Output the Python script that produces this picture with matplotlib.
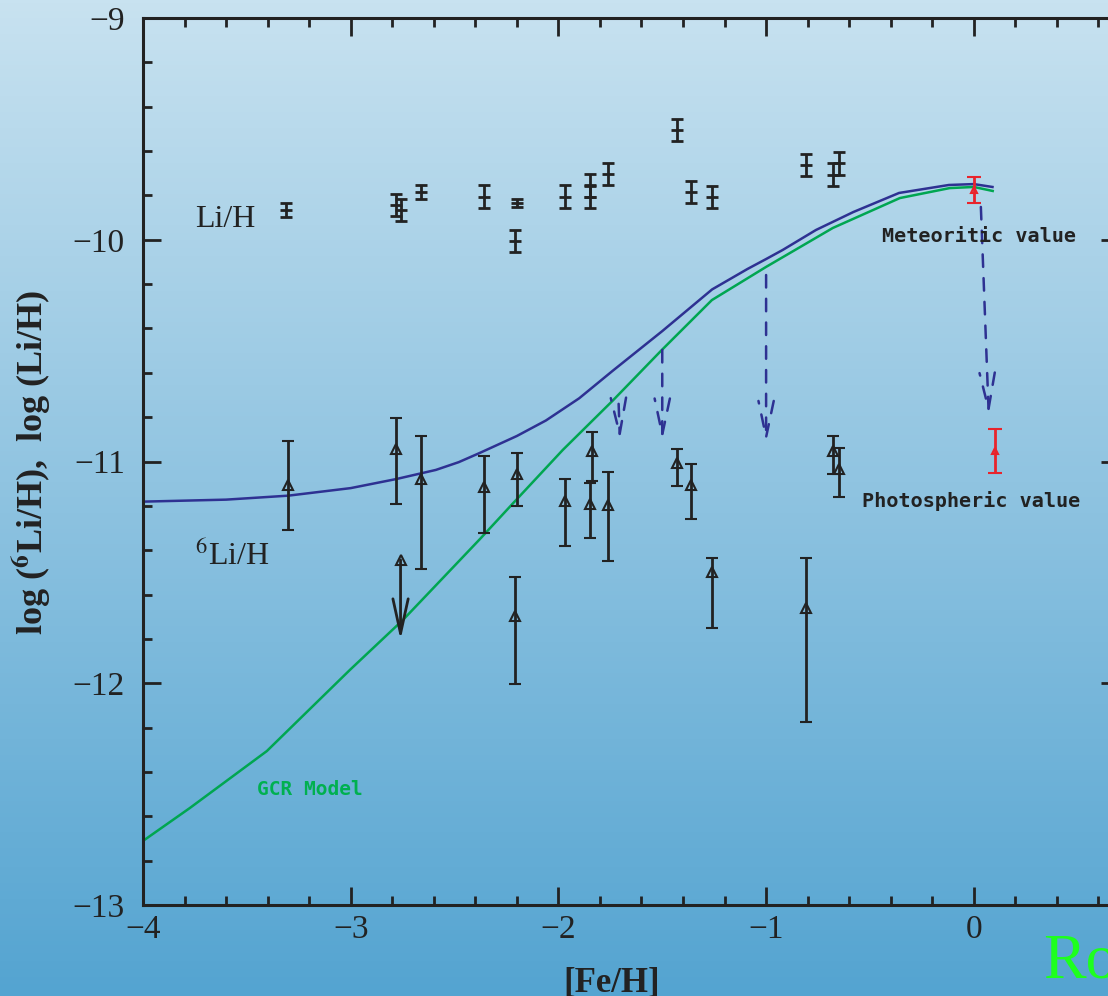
import numpy as np
import matplotlib
matplotlib.use("Agg")
import matplotlib.pyplot as plt
from matplotlib.ticker import MultipleLocator

plt.rcParams['font.family'] = ['Liberation Serif', 'DejaVu Serif']
plt.rcParams['mathtext.fontset'] = 'stix'

# model curves
blue_feh = [-4.0, -3.6, -3.3, -3.0, -2.78, -2.59, -2.48, -2.38, -2.20, -2.06, -1.90, -1.74,
            -1.50, -1.26, -1.09, -1.00, -0.92, -0.76, -0.58, -0.36, -0.12, 0.0, 0.09]
blue_li = [-11.181, -11.172, -11.154, -11.12, -11.079, -11.038, -11.003, -10.962, -10.885, -10.815,
           -10.715, -10.592, -10.412, -10.224, -10.132, -10.087, -10.046, -9.956, -9.875, -9.789,
           -9.753, -9.749, -9.762]
green_feh = [-4.0, -3.775, -3.404, -3.004, -2.749, -2.571, -2.378, -2.220, -1.979, -1.738,
             -1.502, -1.261, -1.001, -0.679, -0.356, -0.116, 0.0, 0.091]
green_li = [-12.711, -12.563, -12.306, -11.940, -11.715, -11.540, -11.350, -11.190, -10.948, -10.725,
            -10.497, -10.272, -10.123, -9.947, -9.812, -9.767, -9.762, -9.780]

# Li/H measurements
li_feh = [-3.31, -2.78, -2.76, -2.66, -2.36, -2.20, -2.21, -1.97, -1.85, -1.85, -1.76,
          -1.43, -1.36, -1.26, -0.81, -0.68, -0.65]
li_h = [-9.866, -9.843, -9.866, -9.785, -9.806, -9.834, -10.006, -9.806, -9.755, -9.806, -9.705,
        -9.505, -9.785, -9.806, -9.664, -9.706, -9.656]
li_err = [0.03, 0.05, 0.05, 0.03, 0.052, 0.02, 0.05, 0.052, 0.05, 0.05, 0.05,
          0.05, 0.05, 0.05, 0.05, 0.05, 0.05]

# 6Li/H measurements (value, top of bar, bottom of bar)
li6_feh = [-3.30, -2.78, -2.66, -2.36, -2.20, -2.21, -1.97, -1.84, -1.85, -1.76,
           -1.43, -1.36, -1.26, -0.81, -0.68, -0.65]
li6_h = [-11.106, -10.944, -11.080, -11.116, -11.058, -11.697, -11.177, -10.953, -11.193, -11.195,
         -11.008, -11.107, -11.498, -11.659, -10.953, -11.035]
li6_top = [-10.908, -10.802, -10.884, -10.975, -10.960, -11.522, -11.080, -10.868, -11.098, -11.049,
           -10.944, -11.013, -11.434, -11.434, -10.885, -10.940]
li6_bot = [-11.309, -11.192, -11.485, -11.324, -11.201, -12.003, -11.380, -11.088, -11.346, -11.449,
           -11.112, -11.261, -11.752, -12.175, -11.056, -11.161]

# 6Li/H upper limit
lim_feh = -2.76
lim_h = -11.444
lim_to = -11.805

# meteoritic and photospheric values
met_feh, met_h, met_err = 0.0, -9.776, 0.06
pho_feh, pho_h, pho_err = 0.10, -10.953, 0.10

# depletion arrows (start -> end)
arr_x0 = [-1.71, -1.50, -1.00, 0.034]
arr_y0 = [-10.74, -10.497, -10.159, -9.852]
arr_x1 = [-1.704, -1.50, -1.00, 0.072]
arr_y1 = [-10.903, -10.906, -10.917, -10.790]

ink = '#222222'
navy = '#2e3192'
green = '#00a651'
red = '#e8242c'

fig = plt.figure(figsize=(11.08, 9.96), dpi=100)

# gradient background
bg = fig.add_axes([0, 0, 1, 1], zorder=-5)
top_c = np.array([200, 226, 240]) / 255
bot_c = np.array([84, 164, 209]) / 255
t = np.linspace(0, 1, 256)[:, None]
grad = top_c[None, :] * (1 - t) + bot_c[None, :] * t
bg.imshow(grad[:, None, :], aspect='auto', extent=[0, 1, 0, 1])
bg.axis('off')

ax = fig.add_axes([143 / 1108, 1 - 905 / 996, 4.7 * 207.7 / 1108, (905 - 18) / 996])
ax.set_facecolor('none')

ax.plot(blue_feh, blue_li, color=navy, lw=1.8)
ax.plot(green_feh, green_li, color=green, lw=1.8)

ax.errorbar(li_feh, li_h, yerr=li_err, fmt='_', color=ink, ms=8, mew=2,
            elinewidth=2, capsize=4, capthick=2)

li6_y = np.array(li6_h)
yerr = [li6_y - np.array(li6_bot), np.array(li6_top) - li6_y]
ax.errorbar(li6_feh, li6_h, yerr=yerr, fmt='^', mfc='none', mec=ink, ms=7.5, mew=1.5,
            ecolor=ink, elinewidth=2, capsize=4, capthick=2)

ax.plot([lim_feh], [lim_h], '^', mfc='none', mec=ink, ms=7.5, mew=1.5)
ax.annotate('', xy=(lim_feh, lim_to), xytext=(lim_feh, lim_h),
            arrowprops=dict(arrowstyle='->,head_length=2.5,head_width=0.55',
                            mutation_scale=10, color=ink, lw=2, shrinkA=0, shrinkB=0))

for x, y, e in [(met_feh, met_h, met_err), (pho_feh, pho_h, pho_err)]:
    ax.errorbar([x], [y], yerr=[e], fmt='^', mfc='none', mec=red, ms=5, mew=1.5,
                ecolor=red, elinewidth=2, capsize=5, capthick=2)

for x0, y0, x1, y1 in zip(arr_x0, arr_y0, arr_x1, arr_y1):
    ax.annotate('', xy=(x1, y1), xytext=(x0, y0),
                arrowprops=dict(arrowstyle='->,head_length=2.6,head_width=0.55',
                                mutation_scale=10, color=navy, lw=1.8,
                                linestyle=(0, (5, 4.5)), shrinkA=0, shrinkB=0))

ax.text(-3.751, -9.942, 'Li/H', fontsize=23, color=ink, ha='left', va='baseline')
ax.text(-3.751, -11.467, r'$^{6}$Li/H', fontsize=23, color=ink, ha='left', va='baseline')
ax.text(-0.443, -10.01, 'Meteoritic value', fontsize=14.5, family='DejaVu Sans Mono',
        fontweight='bold', color=ink, ha='left', va='baseline')
ax.text(-0.539, -11.205, 'Photospheric value', fontsize=14.5, family='DejaVu Sans Mono',
        fontweight='bold', color=ink, ha='left', va='baseline')
ax.text(-3.452, -12.504, 'GCR Model', fontsize=14, family='DejaVu Sans Mono',
        fontweight='bold', color='#00b050', ha='left', va='baseline')

ax.set_xlim(-4, 0.7)
ax.set_ylim(-13, -9)
ax.xaxis.set_major_locator(MultipleLocator(1))
ax.xaxis.set_minor_locator(MultipleLocator(0.2))
ax.yaxis.set_major_locator(MultipleLocator(1))
ax.yaxis.set_minor_locator(MultipleLocator(0.2))
ax.tick_params(which='both', direction='in', top=True, right=True, width=2, color=ink,
               labelsize=24, labelcolor=ink)
ax.tick_params(which='major', length=13)
ax.tick_params(which='minor', length=6.5)
ax.tick_params(axis='x', pad=7)
ax.tick_params(axis='y', pad=13)
for s in ax.spines.values():
    s.set_linewidth(2.2)
    s.set_color(ink)

fig.text(612 / 1108, 1 - 992 / 996, '[Fe/H]', fontsize=25, fontweight='bold', color=ink,
         ha='center', va='baseline')
fig.text(32 / 1108, 1 - 462 / 996, r'log ($^{\mathbf{6}}$Li/H),  log (Li/H)', fontsize=26,
         fontweight='bold', color=ink, rotation=90, ha='center', va='center')
fig.text(1043 / 1108, 1 - 977 / 996, 'Ro', fontsize=46, color='#1eff1e', ha='left', va='baseline')

fig.savefig('out.png', dpi=100)
